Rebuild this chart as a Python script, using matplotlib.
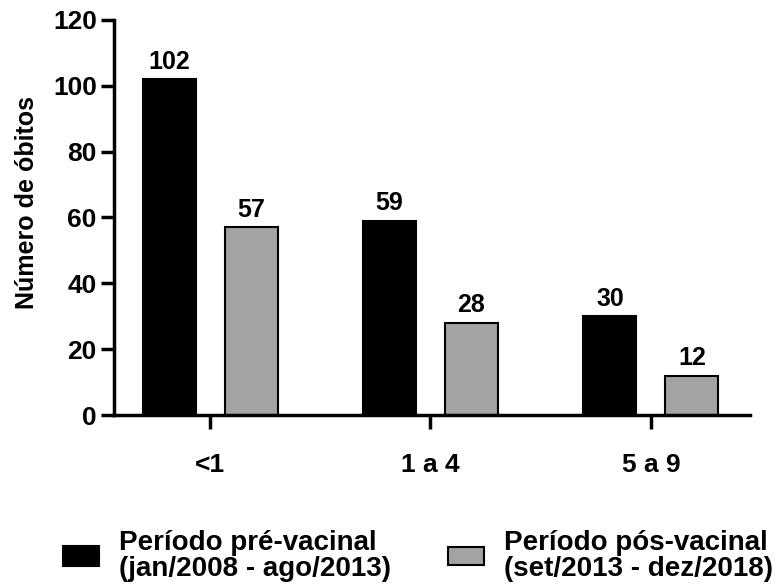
import numpy as np
from matplotlib import pyplot as plt

plt.rcParams['font.family'] = ['Liberation Sans', 'DejaVu Sans']
plt.rcParams['font.weight'] = 'bold'

grupos = ['<1', '1 a 4', '5 a 9']
pre_vacinal = [102, 59, 30]
pos_vacinal = [57, 28, 12]
rotulos = ['Período pré-vacinal\n(jan/2008 - ago/2013)',
           'Período pós-vacinal\n(set/2013 - dez/2018)']

fig = plt.figure(figsize=(7.77, 5.87), dpi=100)
ax = fig.add_axes([0.147, 0.293, 0.818, 0.673])

x = np.arange(len(grupos))
larg = 0.24
b1 = ax.bar(x - 0.186, pre_vacinal, larg, color='black', edgecolor='black', linewidth=1.5)
b2 = ax.bar(x + 0.186, pos_vacinal, larg, color='#a3a3a5', edgecolor='black', linewidth=1.5)
ax.bar_label(b1, padding=4, fontsize=18, fontweight='bold')
ax.bar_label(b2, padding=4, fontsize=18, fontweight='bold')

ax.set_xlim(-0.435, 2.449)
ax.set_ylim(0, 120)
ax.set_yticks(range(0, 121, 20))
ax.set_xticks(x)
ax.set_xticklabels(grupos)
ax.set_ylabel('Número de óbitos', fontsize=18, fontweight='bold')
ax.yaxis.set_label_coords(-0.118, 0.537)

for s in ['top', 'right']:
    ax.spines[s].set_visible(False)
for s in ['left', 'bottom']:
    ax.spines[s].set_linewidth(2.5)
ax.tick_params(axis='y', length=9.5, width=2.5, labelsize=19, pad=3)
ax.tick_params(axis='x', length=10, width=2.5, labelsize=19, pad=17)

# legenda: dois blocos separados, como no original
for barra, rot, x0, hh in [(b1, rotulos[0], 63 / 777, 0.72), (b2, rotulos[1], 448 / 777, 0.6)]:
    leg = fig.legend(handles=[barra], labels=[rot], loc='center left',
                     bbox_to_anchor=(x0, 1 - 556 / 587), frameon=False, fontsize=20,
                     handlelength=1.3, handleheight=hh, handletextpad=0.7,
                     borderpad=0, borderaxespad=0)
    for t in leg.get_texts():
        t.set_linespacing(0.95)

plt.savefig('out.png', dpi=100)
